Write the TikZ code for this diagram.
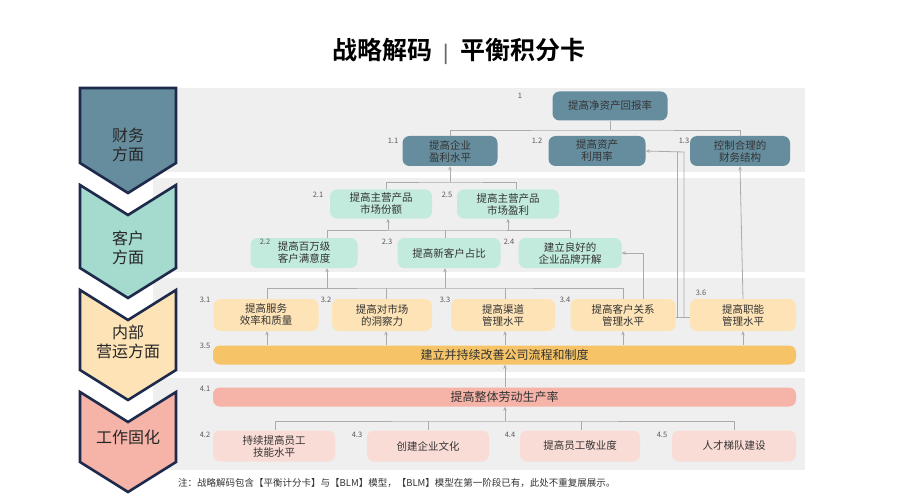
\documentclass[tikz,border=0pt]{standalone}
\usepackage{fontspec}
\setmainfont{Noto Sans CJK SC}
\newfontfamily\cjkb{Noto Sans CJK SC}[BoldFont={* Bold}]
\usetikzlibrary{arrows.meta}
\definecolor{panel}{HTML}{EFEFEF}
\definecolor{fin}{HTML}{668D9E}
\definecolor{cus}{HTML}{C2EADD}
\definecolor{intl}{HTML}{FDE3B6}
\definecolor{bar}{HTML}{F6C466}
\definecolor{wbar}{HTML}{F6B3A8}
\definecolor{wk}{HTML}{FADCD7}
\definecolor{navy}{HTML}{1E2A4C}
\definecolor{lnk}{HTML}{ABABAB}
\begin{document}
\begin{tikzpicture}[x=1pt,y=-1pt,
 box/.style={rounded corners=7pt,align=center,inner sep=0pt,font=\fontsize{10.5}{12}\selectfont,text=black!80},
 fb/.style={box,fill=fin},
 cb/.style={box,fill=cus},
 ib/.style={box,fill=intl},
 num/.style={font=\fontsize{7.5}{8}\selectfont,text=black!65,inner sep=0pt},
 chev/.style={draw=navy,line width=2.6pt,line join=miter},
 ln/.style={draw=lnk,line width=0.8pt},
 ar/.style={ln,-{Stealth[length=4pt,width=3.5pt]}},
 ctext/.style={font=\fontsize{16}{19}\selectfont,align=center,text=black!85}]
\useasboundingbox (0,0) rectangle (919,500);
\fill[white] (0,0) rectangle (919,500);
\node[font=\cjkb\bfseries\fontsize{25}{28}\selectfont] (title) at (459,51) {战略解码\ \ \textcolor{black!60}{\fontsize{18}{18}\selectfont|}\ \ 平衡积分卡};
% panels
\fill[panel] (153,88) rectangle (805,172);
\fill[panel] (153,178) rectangle (805,272);
\fill[panel] (153,278) rectangle (805,372);
\fill[panel] (153,378) rectangle (805,470);
% chevrons
\draw[chev,fill=fin] (80,88) -- (176,88) -- (176,163) -- (128,193) -- (80,163) -- cycle;
\draw[chev,fill=cus!85!teal] (80,185) -- (128,215) -- (176,185) -- (176,268) -- (128,298) -- (80,268) -- cycle;
\draw[chev,fill=intl] (80,290) -- (128,320) -- (176,290) -- (176,370) -- (128,400) -- (80,370) -- cycle;
\draw[chev,fill=wbar] (80,392) -- (128,422) -- (176,392) -- (176,462) -- (128,492) -- (80,462) -- cycle;
\node[ctext] (c1) at (128,145) {财务\\方面};
\node[ctext] (c2) at (128,248) {客户\\方面};
\node[ctext] (c3) at (128,342) {内部\\营运方面};
\node[ctext] (c4) at (128,437) {工作固化};
% finance nodes
\node[fb,minimum width=115pt,minimum height=29pt] (n1) at (610,106) {提高净资产回报率};
\node[fb,minimum width=95pt,minimum height=30pt] (n11) at (450,151) {提高企业\\盈利水平};
\node[fb,minimum width=97pt,minimum height=30pt] (n12) at (597,151) {提高资产\\利用率};
\node[fb,minimum width=100pt,minimum height=30pt] (n13) at (740,151) {控制合理的\\财务结构};
% customer
\node[cb,minimum width=102pt,minimum height=29pt] (n21) at (381,204) {提高主营产品\\市场份额};
\node[cb,minimum width=102pt,minimum height=29pt] (n25) at (508,204) {提高主营产品\\市场盈利};
\node[cb,minimum width=107pt,minimum height=30pt] (n22) at (304,253) {提高百万级\\客户满意度};
\node[cb,minimum width=103pt,minimum height=30pt] (n23) at (449,253) {提高新客户占比};
\node[cb,minimum width=103pt,minimum height=30pt] (n24) at (570,253) {建立良好的\\企业品牌开解};
% internal
\node[ib,minimum width=105pt,minimum height=32pt] (n31) at (266,315) {提高服务\\效率和质量};
\node[ib,minimum width=100pt,minimum height=32pt] (n32) at (382,315) {提高对市场\\的洞察力};
\node[ib,minimum width=104pt,minimum height=32pt] (n33) at (503,315) {提高渠道\\管理水平};
\node[ib,minimum width=105pt,minimum height=32pt] (n34) at (623,315) {提高客户关系\\管理水平};
\node[ib,minimum width=106pt,minimum height=32pt] (n36) at (743,315) {提高职能\\管理水平};
\node[box,fill=bar,minimum width=583pt,minimum height=19pt,font=\fontsize{12}{14}\selectfont] (n35) at (504.5,355) {建立并持续改善公司流程和制度};
% work
\node[box,fill=wbar,minimum width=583pt,minimum height=19pt,font=\fontsize{12}{14}\selectfont] (n41) at (504.5,397) {提高整体劳动生产率};
\node[box,fill=wk,minimum width=122pt,minimum height=31pt] (n42) at (274,446) {持续提高员工\\技能水平};
\node[box,fill=wk,minimum width=122pt,minimum height=31pt] (n43) at (428,446) {创建企业文化};
\node[box,fill=wk,minimum width=120pt,minimum height=31pt] (n44) at (580,446) {提高员工敬业度};
\node[box,fill=wk,minimum width=124pt,minimum height=31pt] (n45) at (734,446) {人才梯队建设};
% numbers
\node[num] (l1) at (520,96) {1};
\node[num] (l11) at (393,141) {1.1};
\node[num] (l12) at (537,141) {1.2};
\node[num] (l13) at (684,141) {1.3};
\node[num] (l21) at (318,195) {2.1};
\node[num] (l25) at (447,195) {2.5};
\node[num] (l22) at (265,242) {2.2};
\node[num] (l23) at (387,242) {2.3};
\node[num] (l24) at (509,242) {2.4};
\node[num] (l31) at (205,300) {3.1};
\node[num] (l32) at (326,300) {3.2};
\node[num] (l33) at (445,300) {3.3};
\node[num] (l34) at (565,300) {3.4};
\node[num] (l36) at (701,293) {3.6};
\node[num] (l35) at (205,346) {3.5};
\node[num] (l41) at (205,389) {4.1};
\node[num] (l42) at (205,435) {4.2};
\node[num] (l43) at (357,435) {4.3};
\node[num] (l44) at (510,435) {4.4};
\node[num] (l45) at (662,435) {4.5};
% finance tree
\draw[ln] (n1.south) -- (610,130);
\draw[ln] (n11.north) |- (610,130) -| (n13.north);
% customer -> 1.1
\draw[ln] (n21.north -| 386,0) |- (450,182) -| (n25.north -| 516,0);
\draw[ar] (450,182) -- (n11.south);
% 2.2-2.4 -> 2.1, 2.5
\draw[ln] (n22.north -| 327,0) |- (445,230) -| (n24.north);
\draw[ln] (n23.north -| 445,0) -- (445,230);
\draw[ar] (388,230) -- (n21.south -| 388,0);
\draw[ar] (508,230) -- (n25.south);
% internal -> customer
\draw[ln] (n31.north -| 267,0) |- (445,288) -| (n34.north);
\draw[ln] (n32.north -| 386,0) -- (386,288);
\draw[ln] (n33.north -| 505,0) -- (505,288);
\draw[ar] (327,288) -- (n22.south -| 327,0);
\draw[ar] (445,288) -- (n23.south -| 445,0);
% 3.4 -> 2.4
\draw[ar] (n34.north -| 643,0) |- (n24.east);
% 3.4/3.6 -> 1.2
\coordinate (b1) at (677,317);
\coordinate (b2) at (684,317);
\draw[ln] (n34.east |- b1) -- (n36.west |- b1);
\draw[ln] (b1) -- (677,152);
\draw[ar] (b2) -- (684,152) -- (n12.east);
% 3.6 -> 1.3
\draw[ar] (n36.north) -- (n13.south);
% 3.5 -> internal nodes
\foreach \n/\x in {n31/267,n32/386,n33/505,n34/623,n36/743}
  \draw[ar] (n35.north -| \x,0) -- (\n.south -| \x,0);
% 4.1 -> 3.5
\draw[ar] (n41.north -| 505,0) -- (n35.south -| 505,0);
% work tree
\draw[ln] (n42.north -| 275,0) |- (505,421) -| (n45.north);
\draw[ln] (n43.north) -- (428,421);
\draw[ln] (n44.north -| 581,0) -- (581,421);
\draw[ar] (505,421) -- (n41.south -| 505,0);
% footnote
\node[anchor=west,font=\fontsize{9.5}{11}\selectfont,text=black!80,inner sep=0pt] (note) at (178,483) {注：战略解码包含【平衡计分卡】与【BLM】模型，【BLM】模型在第一阶段已有，此处不重复展展示。};
\end{tikzpicture}
\end{document}
